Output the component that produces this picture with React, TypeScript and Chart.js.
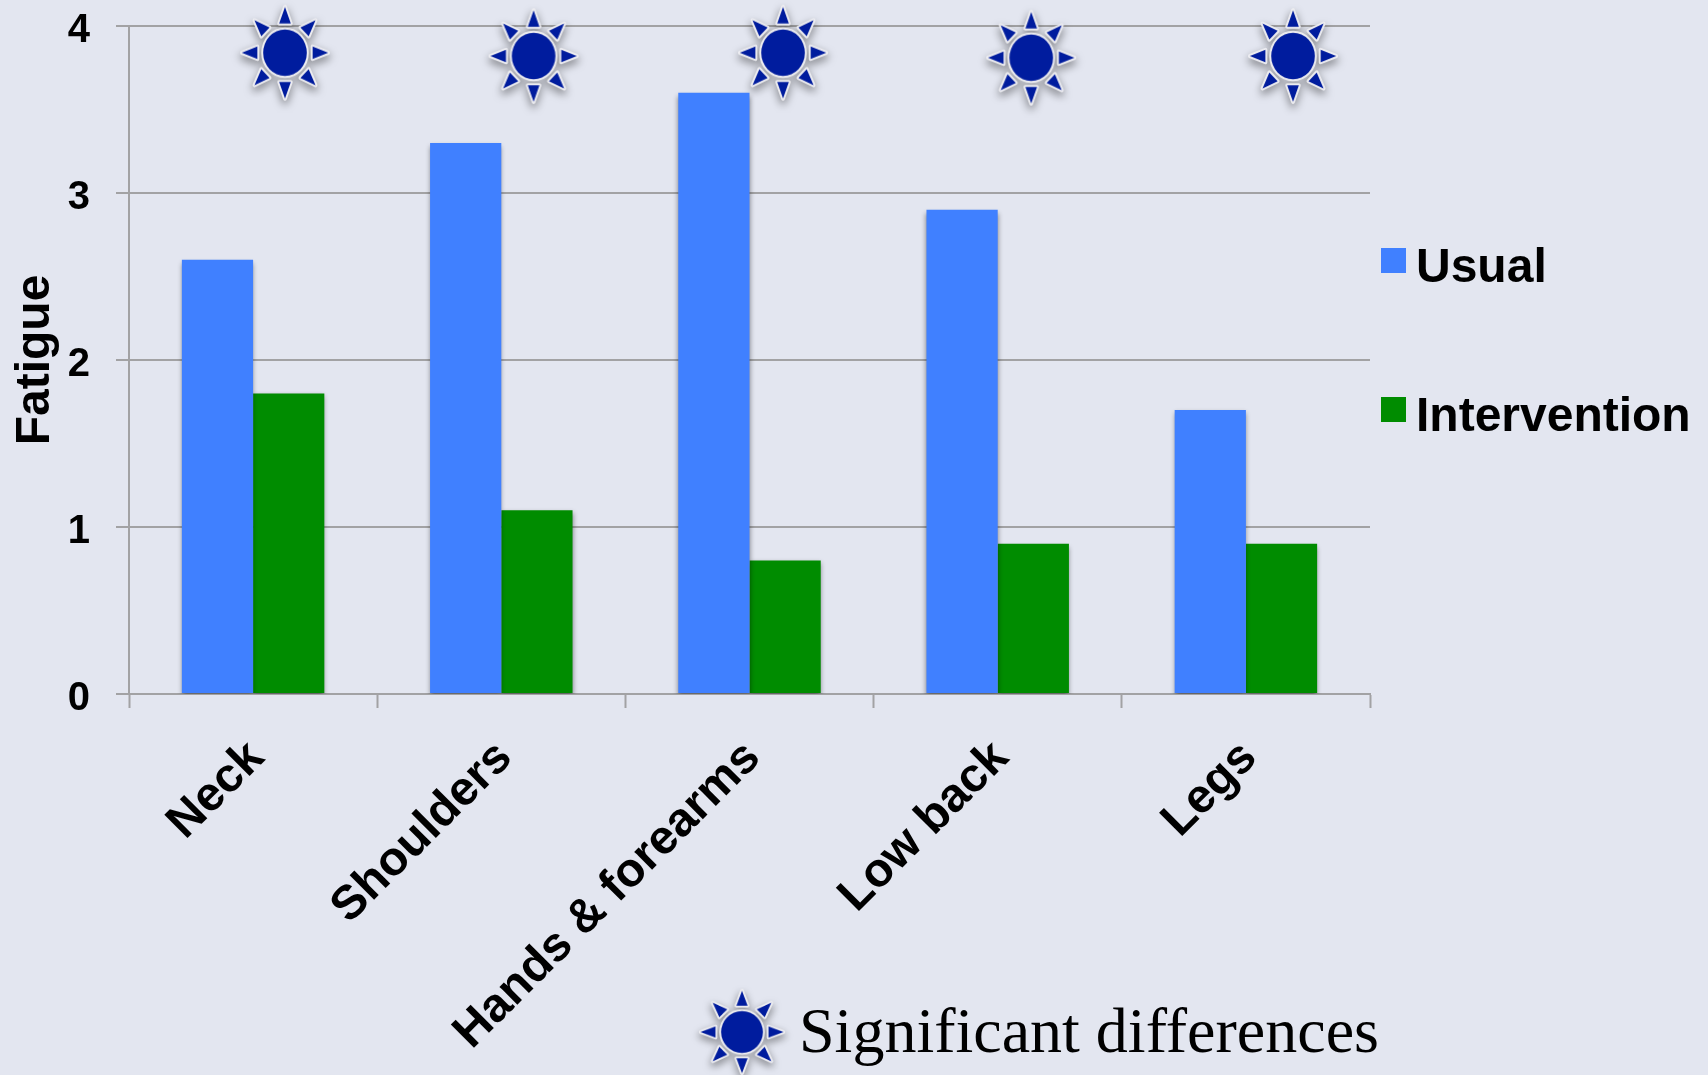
import React, { useEffect, useRef } from "react";
import { Chart, registerables } from "chart.js";

Chart.register(...registerables);

const categories = ["Neck", "Shoulders", "Hands & forearms", "Low back", "Legs"];
const usual = [2.6, 3.3, 3.6, 2.9, 1.7];
const intervention = [1.8, 1.1, 0.8, 0.9, 0.9];
// Significance markers: x on the category axis (0 is the first category's centre), y in fatigue units.
const markerX = [0.1285, 1.13, 2.135, 3.135, 4.19];
const markerY = [3.84, 3.82, 3.84, 3.81, 3.82];
const yTicks = [0, 1, 2, 3, 4];
const markerCaption = "Significant differences";

const BG = "#E3E6F0";
const BLUE = "#4080FF";
const GREEN = "#008C00";
const NAVY = "#001C9E";
const RULE = "#A2A2A4";
const SANS = "'Liberation Sans', Arial, sans-serif";

function makeStar(): HTMLCanvasElement {
  const size = 120;
  const c = document.createElement("canvas");
  c.width = size;
  c.height = size;
  const g = c.getContext("2d")!;
  g.translate(size / 2, size / 2);
  g.scale(0.97, 1.03);
  const outline = () => {
    g.beginPath();
    g.arc(0, 0, 22.5, 0, Math.PI * 2);
    for (let i = 0; i < 8; i++) {
      const a = (i * Math.PI) / 4;
      const ux = Math.sin(a);
      const uy = -Math.cos(a);
      g.moveTo(ux * 28.5 - uy * 6, uy * 28.5 + ux * 6);
      g.lineTo(ux * 44.5, uy * 44.5);
      g.lineTo(ux * 28.5 + uy * 6, uy * 28.5 - ux * 6);
      g.closePath();
    }
  };
  g.save();
  g.shadowColor = "rgba(0,0,0,0.5)";
  g.shadowBlur = 8;
  g.shadowOffsetY = 4;
  g.lineJoin = "round";
  g.lineWidth = 4;
  g.strokeStyle = "#ECECF0";
  outline();
  g.stroke();
  g.restore();
  g.fillStyle = NAVY;
  outline();
  g.fill("nonzero");
  return c;
}

export default function App() {
  const ref = useRef<HTMLCanvasElement | null>(null);

  useEffect(() => {
    const star = makeStar();

    const backdrop = {
      id: "backdrop",
      beforeDraw(chart: any) {
        const { ctx, width, height } = chart;
        ctx.save();
        ctx.fillStyle = BG;
        ctx.fillRect(0, 0, width, height);
        ctx.restore();
        // Tick labels sit a little below or beside their nominal anchors.
        for (const item of chart.scales.y.getLabelItems()) item.options.translation[1] += 5;
        for (const item of chart.scales.x.getLabelItems()) item.options.translation[0] += 3.5;
      },
    };

    // Soft drop shadow beneath the bars only.
    const barShadow = {
      id: "barShadow",
      beforeDatasetDraw(chart: any, args: any) {
        if (args.meta.type !== "bar") return;
        const { ctx } = chart;
        ctx.save();
        ctx.shadowColor = "rgba(0,0,0,0.45)";
        ctx.shadowBlur = 5;
        ctx.shadowOffsetY = 3;
      },
      afterDatasetDraw(chart: any, args: any) {
        if (args.meta.type !== "bar") return;
        chart.ctx.restore();
      },
    };

    // Legend swatches with labels, and the marker caption at the foot.
    const keys = {
      id: "keys",
      afterDraw(chart: any) {
        const { ctx } = chart;
        ctx.save();
        ctx.textBaseline = "alphabetic";
        ctx.textAlign = "left";
        const entries = [
          { ds: chart.data.datasets[0], top: 248, base: 282 },
          { ds: chart.data.datasets[1], top: 397, base: 431 },
        ];
        for (const e of entries) {
          ctx.fillStyle = e.ds.backgroundColor;
          ctx.fillRect(1381, e.top, 25, 25);
          ctx.fillStyle = "#000";
          ctx.font = `bold 48px ${SANS}`;
          ctx.fillText(e.ds.label, 1416, e.base);
        }
        ctx.drawImage(star, 742 - 57.5, 1032 - 54, 115, 108);
        ctx.fillStyle = "#000";
        ctx.font = "64px 'Liberation Serif', 'Times New Roman', serif";
        ctx.fillText(markerCaption, 799, 1052);
        ctx.restore();
      },
    };

    const chart = new Chart(ref.current!, {
      type: "bar",
      data: {
        labels: categories,
        datasets: [
          {
            label: "Usual",
            data: usual,
            backgroundColor: BLUE,
            categoryPercentage: 0.574,
            barPercentage: 1,
          },
          {
            label: "Intervention",
            data: intervention,
            backgroundColor: GREEN,
            categoryPercentage: 0.574,
            barPercentage: 1,
          },
          {
            type: "scatter",
            label: "Significant",
            parsing: false,
            data: markerX.map((x, i) => ({ x, y: markerY[i] })),
            pointStyle: star,
            pointRadius: 6,
            clip: false,
          } as any,
        ],
      },
      options: {
        responsive: false,
        animation: false,
        layout: { padding: { top: 26, right: 338, left: 0, bottom: 0 } },
        plugins: { legend: { display: false }, tooltip: { enabled: false }, title: { display: false } },
        scales: {
          x: {
            grid: {
              offset: true,
              drawOnChartArea: false,
              drawTicks: true,
              tickLength: 14,
              tickWidth: 2,
              tickColor: RULE,
            },
            border: { display: true, color: RULE, width: 2 },
            ticks: {
              autoSkip: false,
              minRotation: 45,
              maxRotation: 45,
              padding: 22,
              color: "#000",
              font: { family: SANS, size: 47.7, weight: "bold" },
            },
            afterFit(scale: any) {
              scale.height = 381;
            },
          },
          y: {
            min: 0,
            max: 4,
            afterBuildTicks(scale: any) {
              scale.ticks = yTicks.map((value) => ({ value }));
            },
            grid: { color: RULE, lineWidth: 2, drawTicks: true, tickLength: 13, tickColor: RULE, tickWidth: 2 },
            border: { display: true, color: RULE, width: 2 },
            ticks: {
              padding: 26,
              color: "#000",
              font: { family: SANS, size: 40, weight: "bold" },
            },
            title: {
              display: true,
              text: "Fatigue",
              color: "#000",
              padding: { top: 7, bottom: 0 },
              font: { family: SANS, size: 48, weight: "bold" },
            },
            afterFit(scale: any) {
              scale.width = 129;
              scale.paddingTop = 0;
              scale.paddingBottom = 0;
            },
          },
        },
      } as any,
      plugins: [backdrop, barShadow, keys],
    });
    return () => chart.destroy();
  }, []);

  return (
    <canvas
      ref={ref}
      width={1708}
      height={1075}
      style={{ position: "fixed", left: 0, top: 0, width: 1708, height: 1075, display: "block" }}
    />
  );
}
